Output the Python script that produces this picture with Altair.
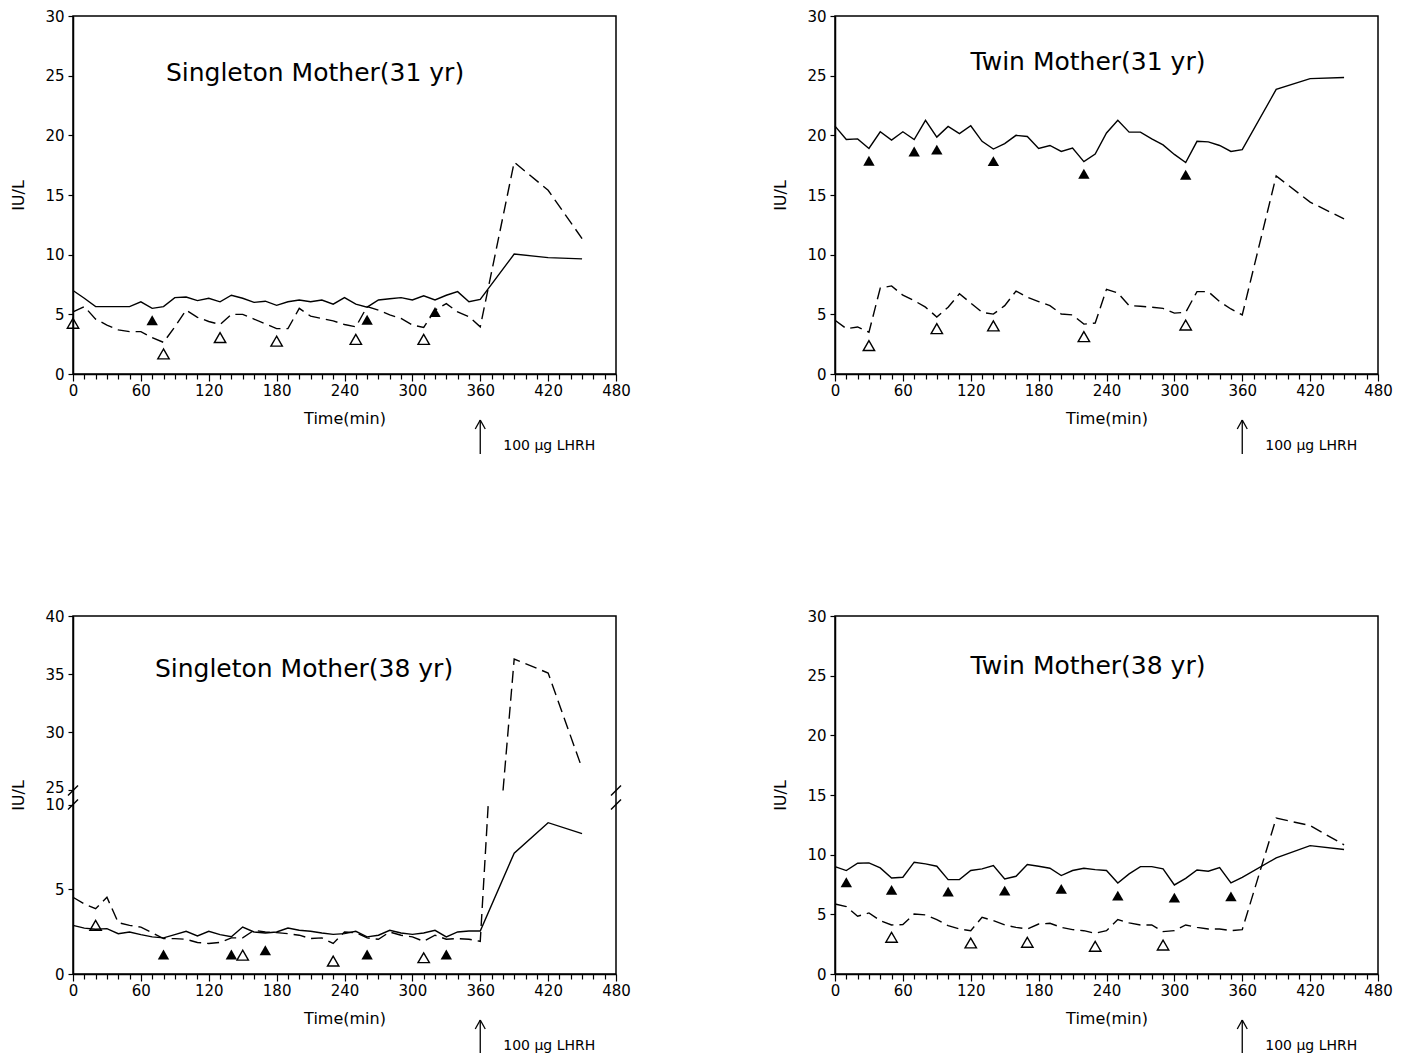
import altair as alt
import pandas as pd

FONT = "DejaVu Sans"
W, H = 543, 358

TIME = [0, 10, 20, 30, 40, 50, 60, 70, 80, 90, 100, 110, 120, 130, 140, 150,
        160, 170, 180, 190, 200, 210, 220, 230, 240, 250, 260, 270, 280, 290,
        300, 310, 320, 330, 340, 350, 360, 390, 420, 450]
X_TICKS = list(range(0, 481, 10))
INJECT_TIME = 360
LHRH_LABEL = "100 µg LHRH"

TITLES = ["Singleton Mother(31 yr)", "Twin Mother(31 yr)",
          "Singleton Mother(38 yr)", "Twin Mother(38 yr)"]

# ---------------- Singleton mother, 31 yr ----------------
S31_SOLID = [7.0, 6.35, 5.65, 5.65, 5.65, 5.65, 6.05, 5.5, 5.65, 6.4, 6.45, 6.15,
             6.35, 6.05, 6.6, 6.35, 6.0, 6.1, 5.75, 6.05, 6.2, 6.05, 6.2, 5.85,
             6.4, 5.85, 5.6, 6.2, 6.3, 6.4, 6.2, 6.55, 6.2, 6.6, 6.9, 6.05, 6.25,
             10.05, 9.75, 9.65]
S31_DASHED = [5.2, 5.65, 4.6, 4.1, 3.7, 3.55, 3.55, 3.05, 2.65, 3.95, 5.35, 4.75,
              4.4, 4.15, 5.0, 5.0, 4.6, 4.2, 3.8, 3.8, 5.5, 4.85, 4.65, 4.45,
              4.15, 3.95, 5.65, 5.35, 4.95, 4.65, 4.1, 3.9, 5.35, 5.9, 5.2, 4.8,
              3.95, 17.75, 15.4, 11.35]
S31_FILLED_T = [70, 260, 320]
S31_FILLED_V = [4.5, 4.55, 5.2]
S31_OPEN_T = [0, 80, 130, 180, 250, 310]
S31_OPEN_V = [4.25, 1.68, 3.05, 2.75, 2.9, 2.9]

# ---------------- Twin mother, 31 yr ----------------
T31_SOLID = [20.77, 19.65, 19.7, 18.9, 20.3, 19.6, 20.3, 19.65, 21.25, 19.85,
             20.75, 20.15, 20.8, 19.5, 18.85, 19.3, 20.0, 19.9, 18.9, 19.15,
             18.65, 18.93, 17.8, 18.43, 20.2, 21.27, 20.27, 20.27, 19.7, 19.2,
             18.4, 17.72, 19.5, 19.45, 19.15, 18.65, 18.8, 23.85, 24.75, 24.85]
T31_DASHED = [4.5, 3.8, 3.94, 3.5, 7.2, 7.38, 6.6, 6.15, 5.6, 4.78, 5.6, 6.72,
              5.95, 5.17, 5.02, 5.73, 6.95, 6.43, 6.07, 5.73, 5.03, 4.95, 4.18,
              4.27, 7.1, 6.8, 5.73, 5.68, 5.6, 5.5, 5.1, 5.17, 6.9, 6.9, 6.07,
              5.45, 4.95, 16.6, 14.4, 13.0]
T31_FILLED_T = [30, 70, 90, 140, 220, 310]
T31_FILLED_V = [17.87, 18.65, 18.8, 17.84, 16.78, 16.7]
T31_OPEN_T = [30, 90, 140, 220, 310]
T31_OPEN_V = [2.38, 3.8, 4.03, 3.13, 4.1]

# ---------------- Singleton mother, 38 yr ----------------
S38_SOLID = [2.87, 2.71, 2.64, 2.68, 2.38, 2.48, 2.32, 2.19, 2.13, 2.32, 2.52,
             2.25, 2.52, 2.32, 2.2, 2.77, 2.48, 2.42, 2.48, 2.71, 2.58, 2.52,
             2.42, 2.34, 2.38, 2.52, 2.19, 2.29, 2.58, 2.42, 2.34, 2.42, 2.58,
             2.19, 2.48, 2.54, 2.54, 7.13, 8.93, 8.28]
S38_DASHED = [4.53, 4.14, 3.85, 4.53, 3.03, 2.87, 2.77, 2.44, 2.09, 2.09, 2.05,
              1.86, 1.8, 1.86, 2.13, 2.13, 2.58, 2.48, 2.44, 2.38, 2.29, 2.09,
              2.13, 1.8, 2.48, 2.44, 2.13, 2.05, 2.48, 2.29, 2.19, 1.93, 2.29,
              2.05, 2.09, 2.05, 1.93, 36.3, 35.1, 26.9]
S38_FILLED_T = [80, 140, 170, 260, 330]
S38_FILLED_V = [1.15, 1.15, 1.4, 1.15, 1.15]
S38_OPEN_T = [20, 150, 230, 310]
S38_OPEN_V = [2.87, 1.11, 0.76, 0.96]

# ---------------- Twin mother, 38 yr ----------------
T38_SOLID = [9.0, 8.67, 9.28, 9.31, 8.89, 8.05, 8.11, 9.37, 9.23, 9.03, 7.91,
             7.91, 8.67, 8.81, 9.09, 7.97, 8.19, 9.17, 9.03, 8.86, 8.25, 8.67,
             8.86, 8.75, 8.67, 7.63, 8.39, 9.0, 9.0, 8.81, 7.46, 8.02, 8.72,
             8.61, 8.92, 7.63, 8.1, 9.73, 10.76, 10.43]
T38_DASHED = [5.87, 5.65, 4.84, 5.12, 4.47, 4.11, 4.14, 5.03, 4.95, 4.56, 4.05,
              3.77, 3.63, 4.75, 4.47, 4.11, 3.91, 3.77, 4.19, 4.25, 3.91, 3.72,
              3.63, 3.41, 3.63, 4.56, 4.28, 4.11, 4.11, 3.55, 3.63, 4.11, 3.91,
              3.77, 3.77, 3.63, 3.72, 13.06, 12.44, 10.82]
T38_FILLED_T = [10, 50, 100, 150, 200, 250, 300, 350]
T38_FILLED_V = [7.69, 7.05, 6.9, 6.99, 7.13, 6.57, 6.4, 6.51]
T38_OPEN_T = [50, 120, 170, 230, 290]
T38_OPEN_V = [3.08, 2.6, 2.66, 2.32, 2.43]

Y_TICKS_30 = [0, 5, 10, 15, 20, 25, 30]
Y_TICKS_BROKEN = [0, 5, 10, 25, 30, 35, 40]

# broken axis geometry (pixels per unit below / above the break, gap size)
BREAK_LO, BREAK_HI = 10, 25
LO_PX, GAP_PX, HI_PX = 16.8, 14.0, 11.53
G = GAP_PX / LO_PX
R = HI_PX / LO_PX


def make_panel(title, tx, ty, solid, dashed, f_t, f_v, o_t, o_v, y_ticks, broken=False):
    def D(v):
        if not broken or v <= BREAK_LO:
            return v
        return BREAK_LO + G + (v - BREAK_HI) * R

    solid_df = pd.DataFrame({"t": TIME, "v": [D(v) for v in solid]})
    rows = []
    seg = 0
    for i, (t, v) in enumerate(zip(TIME, dashed)):
        if broken and i > 0:
            t0, v0 = TIME[i - 1], dashed[i - 1]
            if v0 <= BREAK_LO and v >= BREAK_HI:
                ta = t0 + (t - t0) * (BREAK_LO - v0) / (v - v0)
                tb = t0 + (t - t0) * (BREAK_HI - v0) / (v - v0)
                rows.append((ta, D(BREAK_LO), seg))
                seg += 1
                rows.append((tb, D(BREAK_HI), seg))
        rows.append((t, D(v), seg))
    dashed_df = pd.DataFrame(rows, columns=["t", "v", "seg"])
    filled_df = pd.DataFrame({"t": f_t, "v": [D(v) for v in f_v]})
    open_df = pd.DataFrame({"t": o_t, "v": [D(v) for v in o_v]})
    ann_df = pd.DataFrame({"t": [INJECT_TIME], "label": [LHRH_LABEL]})
    title_df = pd.DataFrame({"label": [title]})

    y_vals = [D(v) for v in y_ticks]
    ymax = D(max(y_ticks))
    y_extra = {}
    if broken:
        label_expr = (f"datum.value <= {BREAK_LO + 0.01} ? format(datum.value, '.0f') : "
                      f"format({BREAK_HI} + (datum.value - {BREAK_LO + G}) / {R}, '.0f')")
        hi0 = D(BREAK_HI)
        y_extra["labelOffset"] = {
            "condition": {"test": f"datum.value > {hi0 - 0.1} && datum.value < {hi0 + 0.1}",
                          "value": -3},
            "value": 0}
    else:
        label_expr = "datum.label"

    xaxis = alt.Axis(values=X_TICKS, title="Time(min)",
                     labelExpr="datum.value % 60 == 0 ? datum.label : ''",
                     tickSize={"condition": {"test": "datum.value % 60 == 0", "value": 7},
                               "value": 5},
                     labelPadding=2, labelFlush=False, labelOverlap=False,
                     titleY=44, titleBaseline="middle", grid=False)
    yaxis = alt.Axis(values=y_vals, title="IU/L", labelExpr=label_expr,
                     tickSize=5, labelPadding=4, labelFlush=False, labelOverlap=False,
                     titleX=-55, titleY=H / 2, titleBaseline="middle", grid=False,
                     **y_extra)
    X = alt.X("t:Q", scale=alt.Scale(domain=[0, 480], nice=False, zero=False), axis=xaxis)
    Y = alt.Y("v:Q", scale=alt.Scale(domain=[0, ymax], nice=False, zero=False), axis=yaxis)

    solid_l = alt.Chart(solid_df).mark_line(color="black", strokeWidth=1.4).encode(x=X, y=Y)
    dashed_l = alt.Chart(dashed_df).mark_line(color="black", strokeWidth=1.4,
                                              strokeDash=[12, 6]).encode(
        x=X, y=Y, detail="seg:N")
    filled_l = alt.Chart(filled_df).mark_point(shape="triangle-up", filled=True,
                                               color="black", size=130, opacity=1).encode(x=X, y=Y)
    open_l = alt.Chart(open_df).mark_point(shape="triangle-up", filled=False,
                                           color="black", size=130, strokeWidth=1.4,
                                           opacity=1).encode(x=X, y=Y)
    title_l = alt.Chart(title_df).mark_text(font=FONT, fontSize=25, align="center",
                                            baseline="middle", color="black").encode(
        text="label:N", x=alt.value(tx), y=alt.value(ty))
    shaft = alt.Chart(ann_df).mark_rule(color="black", strokeWidth=1.3).encode(
        x=X, y=alt.value(H + 46), y2=alt.value(H + 80))
    head_l = alt.Chart(ann_df).mark_rule(color="black", strokeWidth=1.3, x2Offset=-5).encode(
        x=X, x2=alt.X2("t"), y=alt.value(H + 46), y2=alt.value(H + 55))
    head_r = alt.Chart(ann_df).mark_rule(color="black", strokeWidth=1.3, x2Offset=5).encode(
        x=X, x2=alt.X2("t"), y=alt.value(H + 46), y2=alt.value(H + 55))
    ann_text = alt.Chart(ann_df).mark_text(font=FONT, fontSize=14, align="left",
                                           baseline="middle", dx=23, color="black").encode(
        x=X, y=alt.value(H + 72), text="label:N")
    layers = [solid_l, dashed_l, filled_l, open_l, title_l, shaft, head_l, head_r, ann_text]
    if broken:
        br_df = pd.DataFrame({"v": [D(BREAK_HI), D(BREAK_LO)]})
        for x0 in (0, W):
            layers.append(alt.Chart(br_df).mark_rule(color="black", strokeWidth=1.4,
                                                     yOffset=5, y2Offset=-5).encode(
                x=alt.value(x0 - 5), x2=alt.value(x0 + 5), y=Y, y2=alt.Y2("v")))
    return alt.layer(*layers).properties(width=W, height=H)


p1 = make_panel(TITLES[0], 242, 57, S31_SOLID, S31_DASHED, S31_FILLED_T, S31_FILLED_V,
                S31_OPEN_T, S31_OPEN_V, Y_TICKS_30)
p2 = make_panel(TITLES[1], 253, 46, T31_SOLID, T31_DASHED, T31_FILLED_T, T31_FILLED_V,
                T31_OPEN_T, T31_OPEN_V, Y_TICKS_30)
p3 = make_panel(TITLES[2], 231, 53, S38_SOLID, S38_DASHED, S38_FILLED_T, S38_FILLED_V,
                S38_OPEN_T, S38_OPEN_V, Y_TICKS_BROKEN, broken=True)
p4 = make_panel(TITLES[3], 253, 50, T38_SOLID, T38_DASHED, T38_FILLED_T, T38_FILLED_V,
                T38_OPEN_T, T38_OPEN_V, Y_TICKS_30)

row1 = alt.hconcat(p1, p2, spacing=139)
row2 = alt.hconcat(p3, p4, spacing=139)

chart = alt.vconcat(row1, row2, spacing=152).properties(
    padding={"left": 1, "top": 0, "right": 0, "bottom": 0}
).configure_view(
    stroke="black", strokeWidth=1.5
).configure_axis(
    domainColor="black", domainWidth=1.5, tickColor="black", tickWidth=1.2,
    labelColor="black", labelFont=FONT, labelFontSize=15,
    titleFont=FONT, titleFontSize=16, titleFontWeight="normal", titleColor="black"
)

chart.save("out.html", embed_options={"renderer": "svg", "actions": False})
